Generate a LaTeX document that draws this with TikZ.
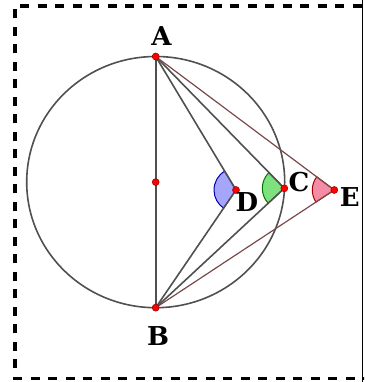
\documentclass[tikz,border=0pt]{standalone}
\usepackage{fontspec}
\setmainfont{DejaVu Serif}
\usetikzlibrary{calc}
\definecolor{segcol}{RGB}{80,80,80}
\definecolor{brncol}{RGB}{120,75,75}
\definecolor{angD}{RGB}{165,165,250}
\definecolor{angC}{RGB}{125,225,125}
\definecolor{angE}{RGB}{245,140,165}

\begin{document}
\begin{tikzpicture}[x=1pt, y=1pt, font=\fontsize{26}{28}\selectfont\bfseries,
    seg/.style={draw=segcol, line width=1.6pt},
    segb/.style={draw=brncol, line width=1.2pt},
    dot/.style={circle, draw=red!55!black, fill=red, line width=0.5pt, inner sep=0pt, minimum size=7pt}]
    \clip (0,0) rectangle (364,382);
    \useasboundingbox (0,0) rectangle (364,382);
    % frame
    \draw[line width=3.6pt, dash pattern=on 9pt off 8.5pt] (372,3.5) -- (14.7,3.5) -- (14.7,375.7) -- (372,375.7);
    \draw[line width=0.8pt] (362.7,0) -- (362.7,382);
    % points
    \coordinate (O) at (155.7,199.9);
    \coordinate (A) at (155.7,325.5);
    \coordinate (B) at (155.7,74.3);
    \coordinate (D) at (236,192);
    \coordinate (C) at (284.3,193.7);
    \coordinate (E) at (334.3,192);
    % angle sectors
    \foreach \v/\fc/\dc in {D/angD/blue!70!black, C/angC/green!45!black, E/angE/red!65!black} {
      \filldraw[fill=\fc, draw=\dc, line width=1pt] let \p1=($(A)-(\v)$), \p2=($(B)-(\v)$),
        \n1={atan2(\y1,\x1)}, \n2={atan2(\y2,\x2)+360} in
        (\v) -- ++(\n1:22pt) arc[start angle=\n1, end angle=\n2, radius=22pt] -- cycle;
    }
    \draw[seg] (O) ellipse [x radius=129, y radius=125.6];
    \draw[seg] (A) -- (B);
    \foreach \v in {D, C} {
      \draw[seg] (A) -- (\v) -- (B);
    }
    \draw[segb] (A) -- (E) -- (B);
    \foreach \v in {O, A, B, C, D, E} {
      \node[dot] (p\v) at (\v) {};
    }
    % labels
    \node (lA) at (161.5,346) {A};
    \node (lB) at (158,46) {B};
    \node (lC) at (299,200) {C};
    \node (lD) at (247,179.5) {D};
    \node (lE) at (349.7,185) {E};
  \end{tikzpicture}
\end{document}
